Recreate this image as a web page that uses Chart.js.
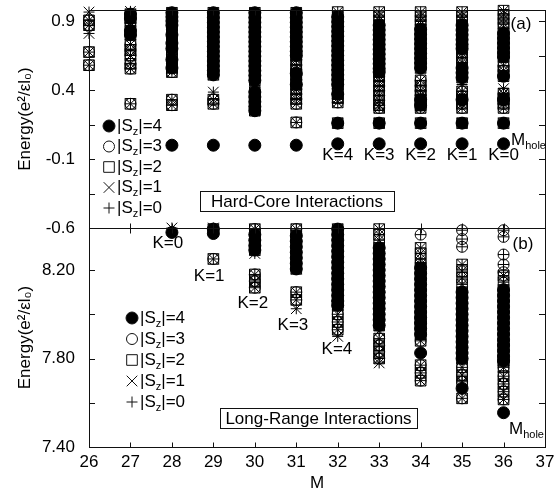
<!DOCTYPE html>
<html>
<head>
<meta charset="utf-8">
<title>Energy spectra vs M</title>
<script src="https://cdn.jsdelivr.net/npm/chart.js@4.4.0/dist/chart.umd.min.js"></script>
<style>
  html, body { margin: 0; padding: 0; background: #fff; }
  #wrap { position: relative; width: 554px; height: 494px; }
</style>
</head>
<body>
<div id="wrap"><canvas id="chart"></canvas></div>
<script>
// total angular momentum M (one column per value)
const mValues = [26, 27, 28, 29, 30, 31, 32, 33, 34, 35, 36];
const xTicks = [26, 27, 28, 29, 30, 31, 32, 33, 34, 35, 36, 37];
const topTicks = [-0.6, -0.35, -0.1, 0.15, 0.4, 0.65, 0.9];
const topLabels = ['-0.6', '', '-0.1', '', '0.4', '', '0.9'];
const botTicks = [7.4, 7.6, 7.8, 8.0, 8.2];
const botLabels = ['7.40', '', '7.80', '', '8.20'];
const szNames = ['4', '3', '2', '1', '0'];

// (a) hard-core: energies per M column
// only |Sz|=4 (lone filled circles)
const topHole = [[], [], [0.0], [0.0], [0.0], [0.0], [0.01], [0.01], [0.01], [0.01], [0.01]];
// all |Sz| overlapping (black columns)
const topDense = [
  [],
  [0.95, 0.92, 0.83, 0.80],
  [0.96, 0.93, 0.90, 0.87, 0.80, 0.74, 0.70, 0.62, 0.56],
  [0.96, 0.925, 0.89, 0.855, 0.82, 0.785, 0.75, 0.715, 0.68, 0.645, 0.61, 0.575, 0.54, 0.51],
  [0.96, 0.925, 0.89, 0.855, 0.82, 0.785, 0.75, 0.715, 0.68, 0.645, 0.61, 0.575, 0.54, 0.505, 0.47, 0.385, 0.35, 0.315, 0.28, 0.25],
  [0.96, 0.925, 0.89, 0.855, 0.82, 0.785, 0.75, 0.715, 0.68, 0.65, 0.52, 0.44],
  [0.93, 0.895, 0.86, 0.825, 0.79, 0.755, 0.72, 0.685, 0.65, 0.615, 0.58, 0.545, 0.51, 0.475, 0.44, 0.37, 0.16],
  [0.87, 0.835, 0.80, 0.765, 0.73, 0.695, 0.66, 0.625, 0.59, 0.555, 0.53, 0.16],
  [0.84, 0.805, 0.77, 0.735, 0.70, 0.665, 0.63, 0.595, 0.56, 0.33, 0.29, 0.16],
  [0.87, 0.835, 0.80, 0.765, 0.73, 0.70, 0.56, 0.525, 0.49, 0.33, 0.16],
  [0.81, 0.775, 0.74, 0.705, 0.67, 0.64, 0.50, 0.33, 0.16]
];
// |Sz|=3,2,1,0
const topGlyph = [
  [0.905, 0.87, 0.675, 0.58],
  [0.89, 0.73, 0.69, 0.65, 0.59, 0.555, 0.30],
  [0.84, 0.77, 0.66, 0.59, 0.53, 0.33, 0.29],
  [0.33, 0.30],
  [0.36, 0.30, 0.26],
  [0.62, 0.58, 0.545, 0.51, 0.475, 0.44, 0.405, 0.37, 0.335, 0.30, 0.165],
  [0.41, 0.34, 0.31],
  [0.50, 0.465, 0.43, 0.395, 0.36, 0.325, 0.29, 0.27],
  [0.47, 0.43, 0.395, 0.36, 0.31, 0.27],
  [0.67, 0.635, 0.60, 0.39, 0.355, 0.30, 0.27],
  [0.575, 0.54, 0.375, 0.34, 0.30, 0.27]
];
// |Sz|=2,1,0
const topSquare = [[], [], [], [], [], [], [0.965], [0.965, 0.935, 0.905], [0.965, 0.935, 0.905, 0.875], [0.965, 0.935, 0.905], [0.975, 0.945, 0.915, 0.885, 0.855]];
// |Sz|=1,0
const topStar = [[0.965, 0.81], [0.97], [], [0.385], [0.43], [], [], [], [], [0.44], [0.41]];
const topRing = [[], [], [], [], [], [], [], [], [], [], []];

// (b) long-range
const botHole = [[], [], [8.37], [8.365], [], [], [], [], [7.825], [7.665], [7.555]];
const botDense = [
  [], [], [],
  [8.385],
  [8.36, 8.335, 8.31, 8.29],
  [8.355, 8.33, 8.305, 8.28, 8.255, 8.23, 8.205],
  [8.385, 8.36, 8.335, 8.31, 8.285, 8.26, 8.235, 8.21, 8.185, 8.16, 8.135, 8.11, 8.085, 8.06, 8.04],
  [8.30, 8.275, 8.25, 8.225, 8.20, 8.175, 8.15, 8.125, 8.10, 8.075, 8.05, 8.025, 8.00, 7.975, 7.95],
  [8.21, 8.185, 8.16, 8.135, 8.11, 8.085, 8.06, 8.035, 8.01, 7.985, 7.96, 7.935, 7.91],
  [8.10, 8.075, 8.05, 8.025, 8.00, 7.975, 7.95, 7.925, 7.90, 7.875, 7.85, 7.825, 7.80],
  [8.11, 8.085, 8.06, 8.035, 8.01, 7.985, 7.96, 7.935, 7.91, 7.885, 7.86, 7.835, 7.81, 7.79]
];
const botGlyph = [
  [], [], [],
  [8.25],
  [8.385, 8.18, 8.15, 8.12],
  [8.385, 8.10, 8.065],
  [8.165, 8.12, 8.06, 8.00, 7.965, 7.93],
  [8.10, 8.05, 7.89, 7.86, 7.83, 7.80],
  [7.985, 7.96, 7.88, 7.77, 7.735, 7.70],
  [7.93, 7.87, 7.76, 7.725, 7.695, 7.62],
  [7.86, 7.79, 7.76, 7.72, 7.685, 7.65, 7.615]
];
const botSquare = [[], [], [], [], [], [], [], [8.385, 8.36, 8.335], [8.30, 8.275, 8.25, 8.225], [8.225, 8.195, 8.165, 8.135], [8.175, 8.145]];
const botStar = [[], [], [8.39], [8.39], [8.275], [8.025], [7.90], [7.925, 7.78], [], [], []];
// open circles (|Sz|=3 with |Sz|=0)
const botRing = [[], [], [], [], [], [], [], [], [8.36], [8.38, 8.34, 8.305], [8.38, 8.35, 8.27, 8.225, 8.19]];

function pts() {
  const out = [];
  for (const lists of arguments) {
    lists.forEach((col, i) => col.forEach(e => out.push({ x: mValues[i], y: e })));
  }
  return out;
}

const markers = [
  { pointStyle: 'circle', pointRadius: 6, fill: true },
  { pointStyle: 'circle', pointRadius: 5.5 },
  { pointStyle: 'rect', pointRadius: 7.5 },
  { pointStyle: 'crossRot', pointRadius: 7.5 },
  { pointStyle: 'cross', pointRadius: 5.5 }
];

function panel(axis, hole, dense, glyph, square, star, ring) {
  const sets = [
    pts(hole, dense),
    pts(dense, glyph, ring),
    pts(dense, glyph, square),
    pts(dense, glyph, square, star),
    pts(dense, glyph, square, star, ring)
  ];
  return sets.map((data, k) => ({
    label: '|Sz|=' + szNames[k],
    data: data,
    yAxisID: axis,
    pointStyle: markers[k].pointStyle,
    pointRadius: markers[k].pointRadius,
    pointBorderWidth: 1,
    borderColor: '#000',
    backgroundColor: markers[k].fill ? '#000' : 'rgba(0,0,0,0)',
    showLine: false,
    clip: false
  }));
}

const FONT = 'Liberation Sans, Arial, sans-serif';

function subText(ctx, x, y, parts, size) {
  // parts: [text, 'n'|'sub'|'sup']
  ctx.textBaseline = 'middle';
  ctx.textAlign = 'left';
  for (const [t, kind] of parts) {
    const s = kind === 'n' ? size : Math.round(size * 0.62);
    const dy = kind === 'sub' ? size * 0.33 : (kind === 'sup' ? -size * 0.35 : 0);
    ctx.font = s + 'px ' + FONT;
    ctx.fillText(t, x, y + dy);
    x += ctx.measureText(t).width;
  }
  return x;
}

function legend(ctx, x, y0, dy) {
  for (let k = 0; k < 5; k++) {
    const y = y0 + k * dy;
    ctx.fillStyle = markers[k].fill ? '#000' : 'rgba(0,0,0,0)';
    Chart.helpers.drawPoint(ctx, { pointStyle: markers[k].pointStyle, rotation: 0, radius: markers[k].pointRadius, borderWidth: 1 }, x, y);
    ctx.fillStyle = '#000';
    subText(ctx, x + 8, y, [['|S', 'n'], ['z', 'sub'], ['|=' + szNames[k], 'n']], 17);
  }
}

function boxText(ctx, x0, y0, x1, y1, text, size) {
  ctx.fillStyle = '#fff';
  ctx.fillRect(x0, y0, x1 - x0, y1 - y0);
  ctx.strokeRect(x0 + .5, y0 + .5, x1 - x0, y1 - y0);
  ctx.fillStyle = '#000';
  ctx.font = size + 'px ' + FONT;
  ctx.textAlign = 'center';
  ctx.textBaseline = 'middle';
  ctx.fillText(text, (x0 + x1) / 2, (y0 + y1) / 2 + 1);
}

const topK = [[32, 'K=4'], [33, 'K=3'], [34, 'K=2'], [35, 'K=1'], [36, 'K=0']];
const botK = [[27.9, 8.32, 'K=0'], [28.9, 8.17, 'K=1'], [29.95, 8.05, 'K=2'], [30.92, 7.95, 'K=3'], [31.98, 7.84, 'K=4']];

const decor = {
  id: 'decor',
  afterDatasetsDraw(chart) {
    const { ctx, chartArea: ca, scales } = chart;
    const xs = scales.x;
    ctx.save();
    ctx.strokeStyle = '#111';
    ctx.lineWidth = 1;
    [scales.yA, scales.yB].forEach(sc => {
      const t = Math.round(sc.top) + .5, b = Math.round(sc.bottom) + .5;
      ctx.strokeRect(Math.round(ca.left) + .5, t, Math.round(ca.right - ca.left), b - t);
      ctx.beginPath();
      sc.ticks.forEach(tk => {
        const py = Math.round(sc.getPixelForValue(tk.value)) + .5;
        ctx.moveTo(ca.left, py); ctx.lineTo(ca.left + 6, py);
        ctx.moveTo(ca.right, py); ctx.lineTo(ca.right - 6, py);
      });
      xs.ticks.forEach(tk => {
        const px = Math.round(xs.getPixelForValue(tk.value)) + .5;
        ctx.moveTo(px, t); ctx.lineTo(px, t + 5);
        ctx.moveTo(px, b); ctx.lineTo(px, b - 5);
      });
      ctx.stroke();
    });

    ctx.fillStyle = '#000';
    legend(ctx, 109, 126, 20.5);
    legend(ctx, 132, 318, 21);

    boxText(ctx, 200, 191, 394, 211, 'Hard-Core Interactions', 17);
    boxText(ctx, 220, 408, 417, 428, 'Long-Range Interactions', 17);

    ctx.fillStyle = '#000';
    ctx.font = '17px ' + FONT;
    ctx.textAlign = 'center';
    ctx.textBaseline = 'middle';
    ctx.fillText('(a)', 521, 24);
    ctx.fillText('(b)', 523, 244);

    const yA = scales.yA, yB = scales.yB;
    topK.forEach(([m, s]) => ctx.fillText(s, xs.getPixelForValue(m), yA.getPixelForValue(-0.07)));
    botK.forEach(([m, e, s]) => ctx.fillText(s, xs.getPixelForValue(m), yB.getPixelForValue(e)));

    subText(ctx, 511, 140, [['M', 'n'], ['hole', 'sub']], 17);
    subText(ctx, 509, 429, [['M', 'n'], ['hole', 'sub']], 17);
    ctx.restore();
  }
};

const datasets = [].concat(
  panel('yA', topHole, topDense, topGlyph, topSquare, topStar, topRing),
  panel('yB', botHole, botDense, botGlyph, botSquare, botStar, botRing)
);

const tickFont = { family: FONT, size: 17 };
const titleFont = { family: FONT, size: 17 };
const noGrid = { display: false, drawTicks: false, tickLength: 0 };

function fitY(s) {
  s.width = 89;
  s.paddingTop = 0;
  s.paddingBottom = 0;
}

new Chart(document.getElementById('chart'), {
  type: 'scatter',
  data: { datasets: datasets },
  options: {
    responsive: true,
    maintainAspectRatio: false,
    animation: false,
    layout: { padding: { top: 10, right: 9, left: 0, bottom: 0 } },
    plugins: { legend: { display: false }, tooltip: { enabled: false } },
    scales: {
      x: {
        type: 'linear', position: 'bottom', min: 26, max: 37,
        grid: noGrid, border: { display: false },
        afterBuildTicks: s => { s.ticks = xTicks.map(v => ({ value: v })); },
        afterFit: s => { s.height = 47; s.paddingLeft = 0; s.paddingRight = 0; },
        ticks: { color: '#000', font: tickFont, padding: 5, autoSkip: false, maxRotation: 0, callback: v => String(v) },
        title: { display: true, text: 'M', color: '#000', font: { family: FONT, size: 17 }, padding: { top: 0, bottom: 0 } }
      },
      yA: {
        type: 'linear', position: 'left', stack: 'e', stackWeight: 218, weight: 1,
        min: -0.6, max: 0.98,
        grid: noGrid, border: { display: false },
        afterBuildTicks: s => { s.ticks = topTicks.map(v => ({ value: v })); },
        afterFit: fitY,
        ticks: { color: '#000', font: tickFont, padding: 14, autoSkip: false, callback: (v, i) => topLabels[i] },
        title: { display: true, text: 'Energy(e²/εl₀)', color: '#000', font: titleFont, padding: { top: 15, bottom: 0 } }
      },
      yB: {
        type: 'linear', position: 'left', stack: 'e', stackWeight: 219, weight: 0,
        min: 7.40, max: 8.39,
        grid: noGrid, border: { display: false },
        afterBuildTicks: s => { s.ticks = botTicks.map(v => ({ value: v })); },
        afterFit: fitY,
        ticks: { color: '#000', font: tickFont, padding: 14, autoSkip: false, callback: (v, i) => botLabels[i] },
        title: { display: true, text: 'Energy(e²/εl₀)', color: '#000', font: titleFont, padding: { top: 15, bottom: 0 } }
      }
    }
  },
  plugins: [decor]
});
</script>
</body>
</html>
